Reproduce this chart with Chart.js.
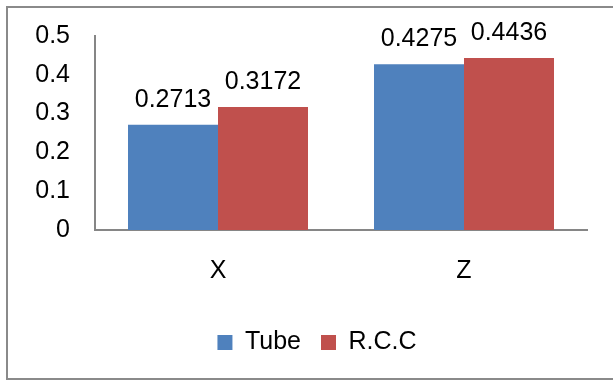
<!DOCTYPE html>
<html>
<head>
<meta charset="utf-8">
<script src="https://cdn.jsdelivr.net/npm/chart.js@4/dist/chart.umd.min.js"></script>
<style>
html,body{margin:0;padding:0;background:#fff;}
#wrap{width:613px;height:381px;position:relative;}
</style>
</head>
<body>
<div id="wrap"><canvas id="c" width="613" height="381"></canvas></div>
<script>
const categories = ["X", "Z"];
const seriesNames = ["Tube", "R.C.C"];
const tubeValues = [0.2713, 0.4275];
const rccValues = [0.3172, 0.4436];
const valueLabels = [["0.2713", "0.4275"], ["0.3172", "0.4436"]];
const yTicks = [0, 0.1, 0.2, 0.3, 0.4, 0.5];

const FONT = "'Liberation Sans', Arial, sans-serif";
const FS = 25;

const frame = {
  id: 'frame',
  beforeDraw(chart) {
    const ctx = chart.ctx;
    ctx.save();
    ctx.fillStyle = '#fff';
    ctx.fillRect(0, 0, chart.width, chart.height);
    ctx.strokeStyle = '#8a8a8a';
    ctx.lineWidth = 2;
    ctx.strokeRect(7, 7, 620, 372);
    ctx.restore();
  }
};

const dataLabels = {
  id: 'dataLabels',
  afterDatasetsDraw(chart) {
    const ctx = chart.ctx;
    ctx.save();
    ctx.font = FS + 'px ' + FONT;
    ctx.fillStyle = '#000';
    ctx.textAlign = 'center';
    ctx.textBaseline = 'alphabetic';
    chart.data.datasets.forEach((ds, di) => {
      const meta = chart.getDatasetMeta(di);
      meta.data.forEach((bar, i) => {
        ctx.fillText(valueLabels[di][i], bar.x, bar.y - 18);
      });
    });
    ctx.restore();
  }
};

new Chart(document.getElementById('c'), {
  type: 'bar',
  data: {
    labels: categories,
    datasets: [
      { label: seriesNames[0], data: tubeValues, backgroundColor: '#4F81BD' },
      { label: seriesNames[1], data: rccValues, backgroundColor: '#C0504D' }
    ]
  },
  options: {
    responsive: false,
    animation: false,
    devicePixelRatio: 1,
    layout: { padding: { top: 36, right: 0, left: 21, bottom: 16 } },
    datasets: { bar: { categoryPercentage: 0.7317, barPercentage: 1 } },
    plugins: {
      tooltip: { enabled: false },
      legend: {
        position: 'bottom',
        labels: {
          font: { family: FONT, size: FS },
          color: '#000',
          boxWidth: 15,
          boxHeight: 15,
          padding: 20
        }
      }
    },
    scales: {
      x: {
        grid: { display: false, drawTicks: false },
        border: { color: '#868686', width: 2 },
        ticks: { font: { family: FONT, size: FS }, color: '#000', padding: 26 },
        afterFit(s) { s.height = 80; }
      },
      y: {
        min: 0, max: 0.5,
        grid: { display: false, drawTicks: false },
        border: { color: '#868686', width: 2 },
        afterBuildTicks(s) { s.ticks = yTicks.map(v => ({ value: v })); },
        ticks: { font: { family: FONT, size: FS, lineHeight: 0.8 }, color: '#000', padding: 25 },
        afterFit(s) { s.width = 74; }
      },
      y2: {
        position: 'right',
        display: true,
        min: 0, max: 0.5,
        grid: { display: false, drawTicks: false },
        border: { display: false },
        ticks: { display: false },
        afterFit(s) { s.width = 26; }
      }
    }
  },
  plugins: [frame, dataLabels]
});
</script>
</body>
</html>
